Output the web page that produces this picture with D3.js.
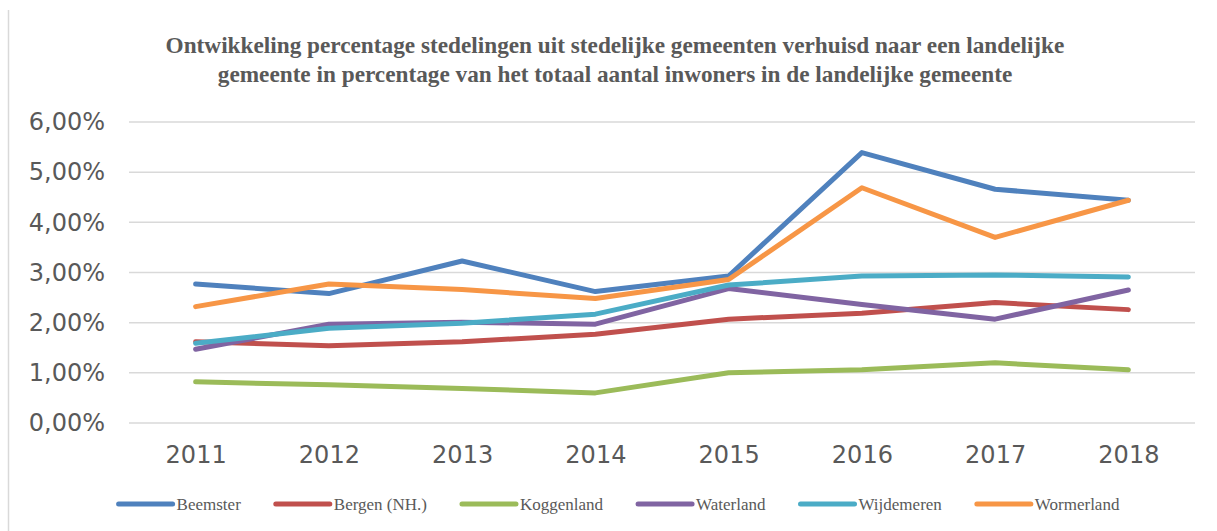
<!DOCTYPE html>
<html>
<head>
<meta charset="utf-8">
<script src="https://cdn.jsdelivr.net/npm/d3@7"></script>
<style>
  html, body { margin: 0; padding: 0; background: #fff; }
  svg { display: block; }
</style>
</head>
<body>
<div id="chart"></div>
<script>
const years = ["2011", "2012", "2013", "2014", "2015", "2016", "2017", "2018"];
const beemster   = [2.77, 2.58, 3.23, 2.62, 2.93, 5.39, 4.66, 4.44];
const bergen     = [1.62, 1.54, 1.62, 1.77, 2.07, 2.19, 2.40, 2.26];
const koggenland = [0.82, 0.76, 0.69, 0.60, 1.00, 1.06, 1.20, 1.06];
const waterland  = [1.47, 1.97, 2.01, 1.97, 2.68, 2.36, 2.07, 2.65];
const wijdemeren = [1.59, 1.89, 1.99, 2.17, 2.75, 2.93, 2.95, 2.91];
const wormerland = [2.32, 2.77, 2.66, 2.48, 2.86, 4.69, 3.70, 4.44];
const yTicks = [0, 1, 2, 3, 4, 5, 6];
const titleLines = [
  "Ontwikkeling percentage stedelingen uit stedelijke gemeenten verhuisd naar een landelijke",
  "gemeente in percentage van het totaal aantal inwoners in de landelijke gemeente"
];

const series = [
  {name: "Beemster", values: beemster, color: "#4F81BD"},
  {name: "Bergen (NH.)", values: bergen, color: "#C0504D"},
  {name: "Koggenland", values: koggenland, color: "#9BBB59"},
  {name: "Waterland", values: waterland, color: "#8064A2"},
  {name: "Wijdemeren", values: wijdemeren, color: "#4BACC6"},
  {name: "Wormerland", values: wormerland, color: "#F79646"}
];

const W = 1217, H = 531;
const plot = {left: 129, right: 1195, top: 122, bottom: 423};
const textColor = "#595959";

const svg = d3.select("#chart").append("svg")
  .attr("width", W)
  .attr("height", H);

// chart border on the left
svg.append("line")
  .attr("x1", 8.5).attr("x2", 8.5)
  .attr("y1", 10).attr("y2", H)
  .attr("stroke", "#d9d9d9").attr("stroke-width", 1.5);

// title
const title = svg.append("g")
  .attr("font-family", "'Liberation Serif', serif")
  .attr("font-weight", "bold")
  .attr("fill", textColor)
  .attr("text-anchor", "middle");
title.selectAll("text")
  .data(titleLines)
  .enter().append("text")
  .attr("x", 615)
  .attr("y", (d, i) => 53 + i * 29)
  .attr("font-size", 20)
  .text(d => d);
// fit the first line to its width in the picture
const l1 = title.select("text").node().getComputedTextLength();
title.selectAll("text").attr("font-size", 20 * 899 / l1);

const x = d3.scalePoint()
  .domain(years)
  .range([plot.left, plot.right])
  .padding(0.5);

const y = d3.scaleLinear()
  .domain([0, 6])
  .range([plot.bottom, plot.top]);

// gridlines
svg.append("g")
  .selectAll("line")
  .data(yTicks)
  .enter().append("line")
  .attr("x1", plot.left).attr("x2", plot.right)
  .attr("y1", d => y(d)).attr("y2", d => y(d))
  .attr("stroke", "#d9d9d9")
  .attr("stroke-width", 1.5);

const fmt = d => d.toFixed(2).replace(".", ",") + "%";

// y axis
const yAxis = svg.append("g")
  .attr("transform", `translate(${plot.left - 24},0)`)
  .call(d3.axisLeft(y).tickValues(yTicks).tickFormat(fmt).tickSize(0).tickPadding(0));
yAxis.select(".domain").remove();
yAxis.selectAll("text")
  .attr("font-family", "'DejaVu Sans', Verdana, sans-serif")
  .attr("font-size", 24)
  .attr("fill", textColor);

// x axis
const xAxis = svg.append("g")
  .attr("transform", `translate(0,${plot.bottom})`)
  .call(d3.axisBottom(x).tickSize(0).tickPadding(23));
xAxis.select(".domain").remove();
xAxis.selectAll("text")
  .attr("font-family", "'DejaVu Sans', Verdana, sans-serif")
  .attr("font-size", 24)
  .attr("fill", textColor);

// lines
const line = d3.line()
  .x((d, i) => x(years[i]))
  .y(d => y(d));

svg.append("g")
  .selectAll("path")
  .data(series)
  .enter().append("path")
  .attr("d", d => line(d.values))
  .attr("fill", "none")
  .attr("stroke", d => d.color)
  .attr("stroke-width", 5)
  .attr("stroke-linecap", "round")
  .attr("stroke-linejoin", "round");

// legend
const legend = svg.append("g");
const items = legend.selectAll("g")
  .data(series)
  .enter().append("g");
items.append("line")
  .attr("x1", 0).attr("x2", 54)
  .attr("y1", 504).attr("y2", 504)
  .attr("stroke", d => d.color)
  .attr("stroke-width", 5)
  .attr("stroke-linecap", "round");
items.append("text")
  .attr("x", 58)
  .attr("y", 510)
  .attr("font-family", "'Liberation Serif', serif")
  .attr("font-size", 17)
  .attr("fill", textColor)
  .text(d => d.name);

const gap = 35;
let offsets = [], pos = 0;
items.each(function() {
  const w = 58 + d3.select(this).select("text").node().getComputedTextLength();
  offsets.push(pos);
  pos += w + gap;
});
const legendW = pos - gap;
const startX = 619 - legendW / 2;
items.attr("transform", (d, i) => `translate(${startX + offsets[i]},0)`);
</script>
</body>
</html>
